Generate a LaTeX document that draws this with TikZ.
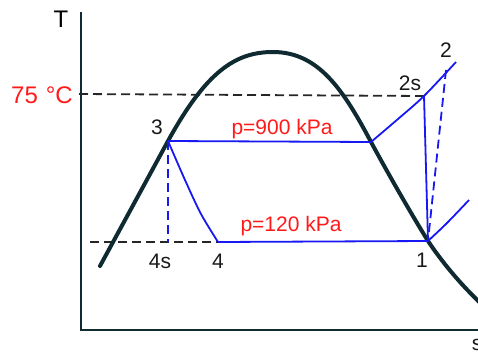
\documentclass[tikz,border=0pt]{standalone}
\usepackage{fontspec}
\setmainfont{Liberation Sans}
\definecolor{domec}{HTML}{0F2A30}
\definecolor{cycc}{HTML}{1818F2}
\definecolor{redc}{HTML}{FF1A1A}
\begin{document}
\begin{tikzpicture}[x=1pt,y=-1pt,
  axisline/.style={draw=domec,line width=2.4pt},
  domeline/.style={draw=domec,line width=4pt,line cap=round,line join=round},
  cycline/.style={draw=cycc,line width=1.8pt,line join=round},
  cycdash/.style={draw=cycc,line width=1.8pt,dash pattern=on 9pt off 5pt},
  refdash/.style={draw=black!85,line width=1.8pt,dash pattern=on 9pt off 5pt},
  lbl/.style={font=\fontsize{21}{21}\selectfont,text=black!90,inner sep=0pt,anchor=base},
  rlbl/.style={font=\fontsize{21}{21}\selectfont,text=redc,inner sep=0pt,anchor=base},
  big/.style={font=\fontsize{24}{24}\selectfont,inner sep=0pt,anchor=base}]
\useasboundingbox (0,0) rectangle (478,353);
\clip (0,0) rectangle (478,353);
% points
\coordinate (ytop) at (81,12);
\coordinate (orig) at (81,330);
\coordinate (xend) at (485,330);
\coordinate (p3) at (168,141);
\coordinate (p4s) at (168,242);
\coordinate (p4) at (218,242);
\coordinate (p1) at (428,241);
\coordinate (p2s) at (424,96);
\coordinate (pg) at (371,142);
\coordinate (p2) at (446,70);
\coordinate (tl) at (79,94);
\coordinate (bl) at (90,242);
\coordinate (dstart) at (100,266);
\coordinate (dtop) at (273,52);
\coordinate (dend) at (490,312);
% axes
\draw[axisline] (ytop) -- (orig) -- (xend);
% dashed reference lines
\draw[refdash] (tl) -- (p2s);
\draw[refdash] (bl) -- (p4);
% dome
\draw[domeline] (dstart) -- (p3)
  .. controls (206,72) and (235,52) .. (dtop)
  .. controls (318,52) and (343,89) .. (pg)
  .. controls (385,168) and (410,212) .. (p1)
  .. controls (440,259) and (460,285) .. (dend);
% cycle
\draw[cycline] (p3) -- (pg);
\draw[cycline] plot[smooth,tension=0.5] coordinates {(pg) (398,119) (p2s) (456,62)};
\draw[cycline] (p2s) -- (p1);
\draw[cycline] (p4) -- (p1);
\draw[cycline] plot[smooth,tension=0.5] coordinates {(p1) (447,223) (469,200)};
\draw[cycline] plot[smooth,tension=0.5] coordinates {(p3) (185,180) (201,214) (p4)};
\draw[cycdash] (p3) -- (p4s);
\draw[cycdash] (p2) -- (p1);
% labels
\node[big] (tT) at (61,28) {T};
\node[big,text=redc] (t75) at (42,103) {75\,\,°C};
\node[lbl] (l3) at (157,134) {3};
\node[lbl] (l2s) at (410,90) {2s};
\node[lbl] (l2) at (446,57) {2};
\node[lbl] (l4s) at (160,268) {4s};
\node[lbl] (l4) at (218,268) {4};
\node[lbl] (l1) at (422,267) {1};
\node[lbl] (ls) at (477,350) {s};
\node[rlbl] (lp9) at (282,134) {p=900 kPa};
\node[rlbl] (lp1) at (291,231) {p=120 kPa};
\end{tikzpicture}
\end{document}
